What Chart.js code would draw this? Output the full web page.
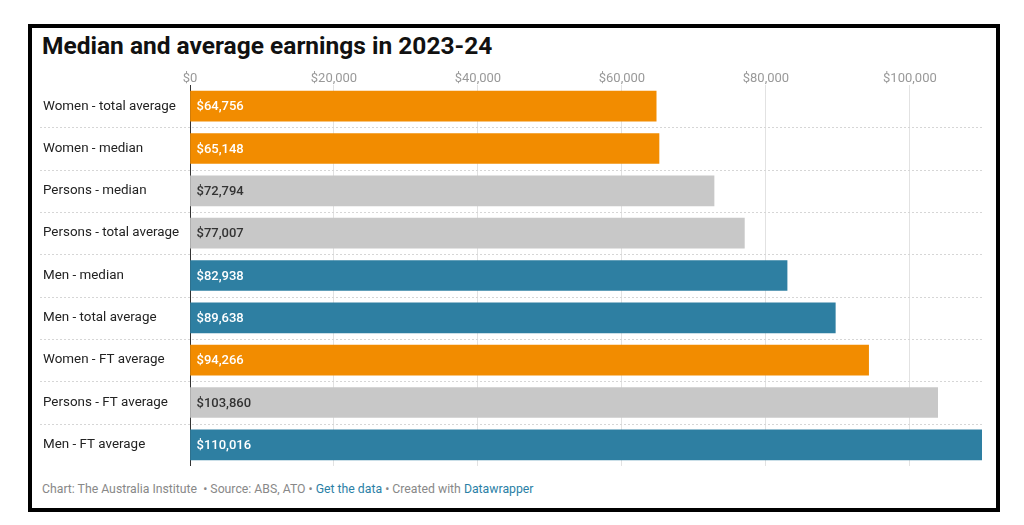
<!DOCTYPE html>
<html>
<head>
<meta charset="utf-8">
<script src="https://cdn.jsdelivr.net/npm/chart.js@4.4.1/dist/chart.umd.min.js"></script>
<style>
  body { margin: 0; background: #fff; font-family: Roboto, "Noto Sans", sans-serif; }
  #frame {
    position: absolute; left: 28px; top: 24px; width: 972px; height: 488px;
    border: 4px solid #000; box-sizing: border-box;
  }
  #title {
    position: absolute; left: 42px; top: 31px; margin: 0;
    font: bold 24.5px Roboto, sans-serif; color: #111;
  }
  #wrap { position: absolute; left: 36px; top: 64px; width: 948px; height: 413px; }
  #footer {
    position: absolute; left: 42px; top: 482px;
    font: 12.25px Roboto, sans-serif; color: #888;
  }
  #footer span { color: #2b7fa6; }
</style>
</head>
<body>
<div id="frame"></div>
<h1 id="title">Median and average earnings in 2023-24</h1>
<div id="wrap"><canvas id="chart"></canvas></div>
<div id="footer">Chart: The Australia Institute &nbsp;• Source: ABS, ATO • <span>Get the data</span> • Created with <span>Datawrapper</span></div>
<script>
const categories = [
  "Women - total average",
  "Women - median",
  "Persons - median",
  "Persons - total average",
  "Men - median",
  "Men - total average",
  "Women - FT average",
  "Persons - FT average",
  "Men - FT average"
];
const earnings = [64756, 65148, 72794, 77007, 82938, 89638, 94266, 103860, 110016];
const groups = ["women", "women", "persons", "persons", "men", "men", "women", "persons", "men"];
const tickValues = [0, 20000, 40000, 60000, 80000, 100000];

const groupColors = { women: "#f28c00", persons: "#c8c8c8", men: "#2e7fa2" };
const labelColors = { women: "#ffffff", persons: "#333333", men: "#ffffff" };

// dotted row separators
const rowLines = {
  id: "rowLines",
  beforeDatasetsDraw(chart) {
    const { ctx, chartArea } = chart;
    const y = chart.scales.y;
    ctx.save();
    ctx.strokeStyle = "#d6d6d6";
    ctx.lineWidth = 1;
    ctx.setLineDash([2, 2]);
    for (let i = 0; i < categories.length - 1; i++) {
      const py = Math.round((y.getPixelForValue(i) + y.getPixelForValue(i + 1)) / 2) + 0.5;
      ctx.beginPath();
      ctx.moveTo(y.left - 3, py);
      ctx.lineTo(chartArea.right, py);
      ctx.stroke();
    }
    ctx.restore();
  }
};

// value labels inside bars
const valueLabels = {
  id: "valueLabels",
  afterDatasetsDraw(chart) {
    const { ctx } = chart;
    const meta = chart.getDatasetMeta(0);
    ctx.save();
    ctx.font = "500 13px Roboto, sans-serif";
    ctx.textAlign = "left";
    ctx.textBaseline = "middle";
    meta.data.forEach((bar, i) => {
      ctx.fillStyle = labelColors[groups[i]];
      ctx.fillText("$" + earnings[i].toLocaleString("en-US"), bar.base + 6, bar.y + 1);
    });
    ctx.restore();
  }
};

new Chart(document.getElementById("chart"), {
  type: "bar",
  data: {
    labels: categories,
    datasets: [{
      data: earnings,
      backgroundColor: groups.map(g => groupColors[g]),
      borderWidth: 0,
      barThickness: 30
    }]
  },
  options: {
    indexAxis: "y",
    responsive: true,
    maintainAspectRatio: false,
    animation: false,
    events: [],
    layout: { padding: { left: 7, right: 2, bottom: 2 } },
    plugins: { legend: { display: false }, tooltip: { enabled: false } },
    scales: {
      x: {
        position: "top",
        min: 0,
        max: 110016,
        afterBuildTicks: (scale) => { scale.ticks = tickValues.map(v => ({ value: v })); },
        afterFit: (scale) => { scale.height = 21; },
        ticks: {
          color: "#999",
          font: { size: 13, family: "Roboto" },
          padding: -2,
          callback: (v) => "$" + Number(v).toLocaleString("en-US")
        },
        grid: { color: "#e2e2e2", drawTicks: false },
        border: { display: false }
      },
      y: {
        afterFit: (scale) => { scale.width = 147; },
        ticks: {
          color: "#222",
          crossAlign: "far",
          font: { size: 13.4, family: "Roboto" }
        },
        grid: { display: false },
        border: { display: true, color: "#333", width: 1 }
      }
    }
  },
  plugins: [rowLines, valueLabels]
});
</script>
</body>
</html>
